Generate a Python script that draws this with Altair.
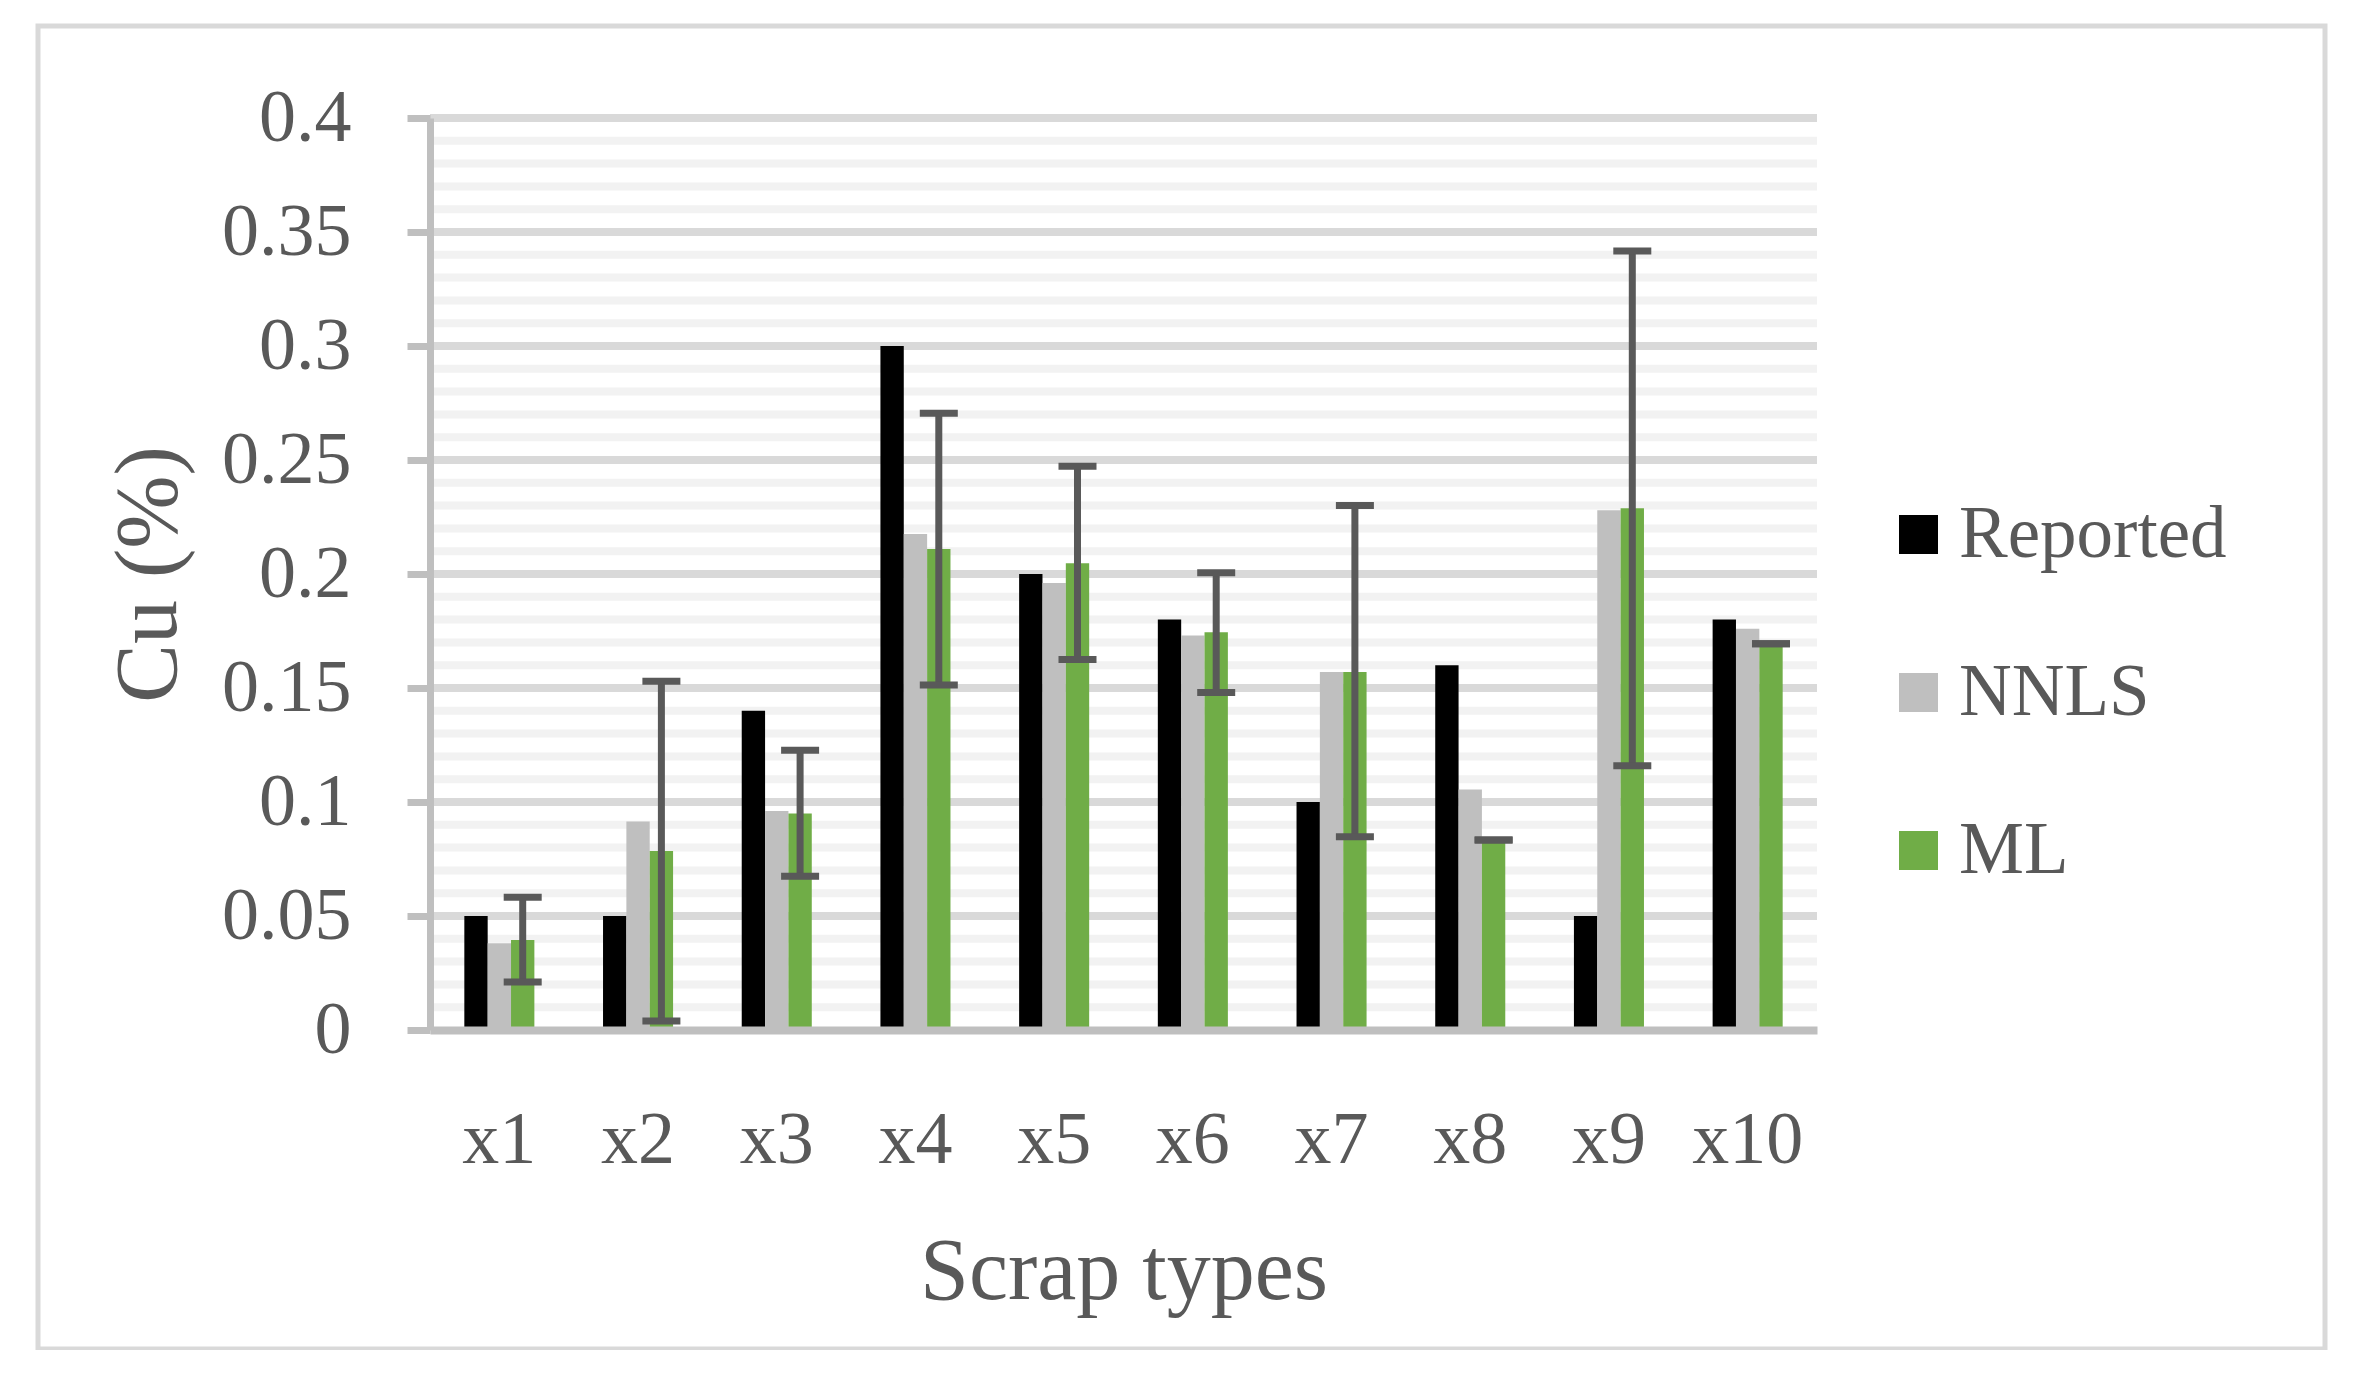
import altair as alt
import pandas as pd

CATEGORIES = ["x1", "x2", "x3", "x4", "x5", "x6", "x7", "x8", "x9", "x10"]
SERIES = ["Reported", "NNLS", "ML"]
REPORTED = [0.05, 0.05, 0.14, 0.30, 0.20, 0.18, 0.10, 0.16, 0.05, 0.18]
NNLS = [0.038, 0.0915, 0.096, 0.2175, 0.196, 0.173, 0.157, 0.1055, 0.228, 0.176]
ML = [0.0395, 0.0785, 0.095, 0.211, 0.2047, 0.1745, 0.157, 0.083, 0.2288, 0.1694]
ML_LOW = [0.021, 0.004, 0.0674, 0.1513, 0.1625, 0.148, 0.0848, 0.0833, 0.1159, 0.1694]
ML_HIGH = [0.0582, 0.153, 0.1227, 0.2705, 0.2473, 0.2005, 0.230, 0.0833, 0.3417, 0.1694]
Y_TICKS = [0, 0.05, 0.1, 0.15, 0.2, 0.25, 0.3, 0.35, 0.4]
MINOR_TICKS = [0.01, 0.02, 0.03, 0.04, 0.06, 0.07, 0.08, 0.09,
               0.11, 0.12, 0.13, 0.14, 0.16, 0.17, 0.18, 0.19,
               0.21, 0.22, 0.23, 0.24, 0.26, 0.27, 0.28, 0.29,
               0.31, 0.32, 0.33, 0.34, 0.36, 0.37, 0.38, 0.39]
COLORS = ["#000000", "#bfbfbf", "#70ad47"]

rows = []
for s, vals in zip(SERIES, [REPORTED, NNLS, ML]):
    for c, v in zip(CATEGORIES, vals):
        rows.append({"cat": c, "series": s, "value": v})
bars_df = pd.DataFrame(rows)
err_df = pd.DataFrame({"cat": CATEGORIES, "series": ["ML"] * len(CATEGORIES),
                       "low": ML_LOW, "high": ML_HIGH})
minor_df = pd.DataFrame({"v": MINOR_TICKS})
major_df = pd.DataFrame({"v": Y_TICKS[1:]})

W, H = 1387, 912
FONT = "Liberation Serif"
TXT = "#595959"

x_scale = alt.Scale(domain=CATEGORIES, paddingInner=0.495, paddingOuter=0.2475)
y_scale = alt.Scale(domain=[0, 0.4], nice=False, zero=True)
off_scale = alt.Scale(domain=SERIES, paddingInner=0, paddingOuter=0)

x_axis = alt.Axis(
    title="Scrap types", labelAngle=0, ticks=False, tickSize=0,
    domainColor="#bfbfbf", domainWidth=8, grid=False, zindex=1,
    labelFontSize=74, labelFont=FONT, labelColor=TXT, labelBaseline="alphabetic",
    labelPadding=132, labelOverlap=False,
    titleFontSize=88, titleFont=FONT, titleColor=TXT, titleFontWeight="normal",
    titleBaseline="alphabetic", titleAlign="center", titleX=W / 2, titleY=268,
)
y_axis = alt.Axis(
    title="Cu (%)", values=Y_TICKS, format="~g", grid=False,
    domainColor="#bfbfbf", domainWidth=7,
    tickColor="#bfbfbf", tickWidth=7, tickSize=23, zindex=1,
    labelFontSize=74, labelFont=FONT, labelColor=TXT, labelPadding=56,
    labelOverlap=False,
    titleFontSize=88, titleFont=FONT, titleColor=TXT, titleFontWeight="normal",
    titleAngle=270, titleBaseline="alphabetic", titleAlign="center",
    titleX=-255, titleY=H / 2,
)

legend = alt.Legend(
    title=None, orient="none", legendX=1452, legendY=380, direction="vertical",
    symbolType="square", symbolSize=39 * 39, symbolStrokeWidth=0,
    labelFontSize=73, labelFont=FONT, labelColor=TXT, labelOffset=4,
    labelLimit=0, rowPadding=84, padding=0,
)

minor = alt.Chart(minor_df).mark_rule(color="#f2f2f2", strokeWidth=8).encode(
    y=alt.Y("v:Q", scale=y_scale, axis=y_axis)
)
major = alt.Chart(major_df).mark_rule(color="#d9d9d9", strokeWidth=8).encode(
    y=alt.Y("v:Q", scale=y_scale, axis=y_axis)
)

bars = alt.Chart(bars_df).mark_bar().encode(
    x=alt.X("cat:N", scale=x_scale, axis=x_axis, sort=CATEGORIES),
    xOffset=alt.XOffset("series:N", scale=off_scale, sort=SERIES),
    y=alt.Y("value:Q", scale=y_scale, axis=y_axis),
    color=alt.Color("series:N", scale=alt.Scale(domain=SERIES, range=COLORS),
                    legend=legend, sort=SERIES),
)

err_rule = alt.Chart(err_df).mark_rule(color="#595959", strokeWidth=7).encode(
    x=alt.X("cat:N", scale=x_scale, axis=x_axis, sort=CATEGORIES),
    xOffset=alt.XOffset("series:N", scale=off_scale, sort=SERIES),
    y=alt.Y("low:Q", scale=y_scale, axis=y_axis),
    y2="high:Q",
)

cap_low = alt.Chart(err_df).mark_tick(color="#595959", size=38, thickness=7,
                                      orient="horizontal", opacity=1).encode(
    x=alt.X("cat:N", scale=x_scale, axis=x_axis, sort=CATEGORIES),
    xOffset=alt.XOffset("series:N", scale=off_scale, sort=SERIES),
    y=alt.Y("low:Q", scale=y_scale, axis=y_axis),
)
cap_high = alt.Chart(err_df).mark_tick(color="#595959", size=38, thickness=7,
                                       orient="horizontal", opacity=1).encode(
    x=alt.X("cat:N", scale=x_scale, axis=x_axis, sort=CATEGORIES),
    xOffset=alt.XOffset("series:N", scale=off_scale, sort=SERIES),
    y=alt.Y("high:Q", scale=y_scale, axis=y_axis),
)

frame = alt.Chart(alt.Data(values=[{"k": 1}])).mark_rect(
    fillOpacity=0, stroke="#d9d9d9", strokeWidth=5
).encode(
    x=alt.value(-392), x2=alt.value(1895), y=alt.value(-92), y2=alt.value(1231)
)

chart = alt.layer(minor, major, bars, err_rule, cap_low, cap_high, frame).properties(
    width=W, height=H,
    autosize=alt.AutoSizeParams(type="none"),
    padding={"left": 422, "top": 110, "right": 520, "bottom": 320},
    background="white",
).configure_view(stroke=None)

chart.save("out.html", embed_options={"renderer": "svg", "actions": False})
